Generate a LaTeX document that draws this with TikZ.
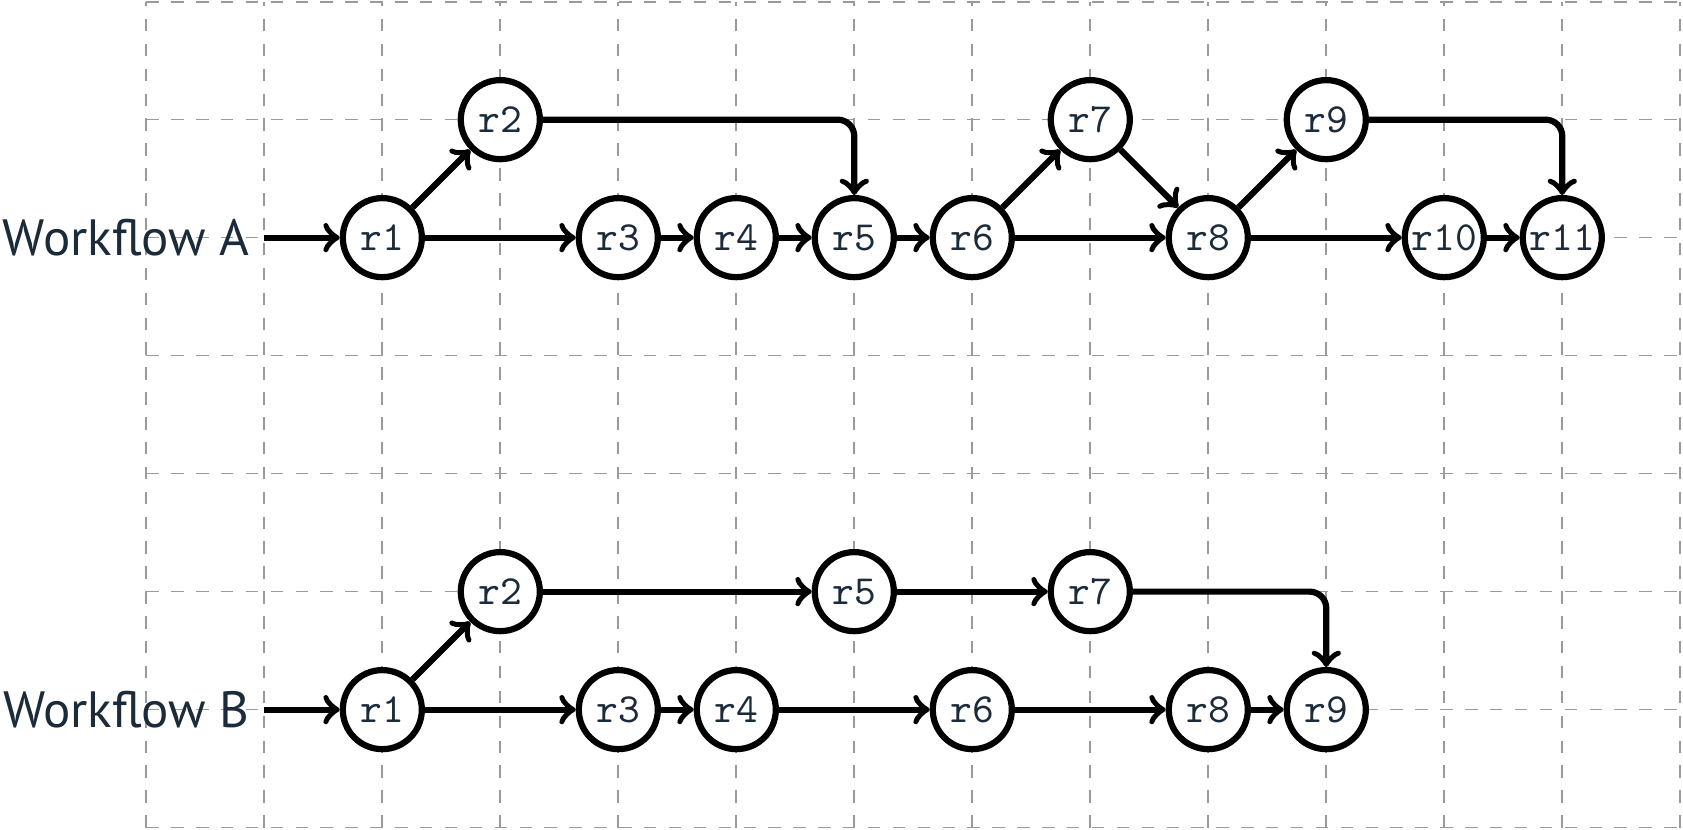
\documentclass[tikz,border=0pt]{standalone}
\usepackage{fontspec}
\usepackage{xcolor}
\newfontfamily\wffont{PT Sans}
\definecolor{ink}{HTML}{1C2B39}
\definecolor{gridgray}{HTML}{9A9A9A}

\begin{document}
\begin{tikzpicture}[
    >=to,
    font = \ttfamily,
    rn/.style={
      circle,
      draw = black,
      line width = 1.5pt,
      fill = white,
      text = ink,
      inner sep = 0pt,
      minimum size = 6.7mm,
    },
    wf/.style={
      font = \wffont\fontsize{12.3}{15}\selectfont,
      text = ink,
      anchor = east,
    },
    flow/.style={->, line width = 1.5pt},
  ]
  \useasboundingbox (-1.24,-0.02) rectangle (13.023,7.014);
  \draw[gridgray, dashed] (0,0) grid (13,7);

  % Workflow A
  \node[wf] (wa) at (1,5) {Workflow A};
  \node[rn] (a1) at (2,5) {r1};
  \node[rn] (a2) at (3,6) {r2};
  \node[rn] (a3) at (4,5) {r3};
  \node[rn] (a4) at (5,5) {r4};
  \node[rn] (a5) at (6,5) {r5};
  \node[rn] (a6) at (7,5) {r6};
  \node[rn] (a7) at (8,6) {r7};
  \node[rn] (a8) at (9,5) {r8};
  \node[rn] (a9) at (10,6) {r9};
  \node[rn] (a10) at (11,5) {r10};
  \node[rn] (a11) at (12,5) {r11};
  \draw[flow] (wa) -- (a1);
  \draw[flow] (a1) -- (a2);
  \draw[flow] (a1) -- (a3);
  \draw[flow, rounded corners] (a2) -| (a5);
  \draw[flow] (a3) -- (a4);
  \draw[flow] (a4) -- (a5);
  \draw[flow] (a5) -- (a6);
  \draw[flow] (a6) -- (a7);
  \draw[flow] (a6) -- (a8);
  \draw[flow] (a7) -- (a8);
  \draw[flow] (a8) -- (a9);
  \draw[flow] (a8) -- (a10);
  \draw[flow, rounded corners] (a9) -| (a11);
  \draw[flow] (a10) -- (a11);

  % Workflow B
  \node[wf] (wb) at (1,1) {Workflow B};
  \node[rn] (b1) at (2,1) {r1};
  \node[rn] (b2) at (3,2) {r2};
  \node[rn] (b3) at (4,1) {r3};
  \node[rn] (b4) at (5,1) {r4};
  \node[rn] (b5) at (6,2) {r5};
  \node[rn] (b6) at (7,1) {r6};
  \node[rn] (b7) at (8,2) {r7};
  \node[rn] (b8) at (9,1) {r8};
  \node[rn] (b9) at (10,1) {r9};
  \draw[flow] (wb) -- (b1);
  \draw[flow] (b1) -- (b2);
  \draw[flow] (b1) -- (b3);
  \draw[flow] (b2) -- (b5);
  \draw[flow] (b5) -- (b7);
  \draw[flow, rounded corners] (b7) -| (b9);
  \draw[flow] (b3) -- (b4);
  \draw[flow] (b4) -- (b6);
  \draw[flow] (b6) -- (b8);
  \draw[flow] (b8) -- (b9);
\end{tikzpicture}
\end{document}
